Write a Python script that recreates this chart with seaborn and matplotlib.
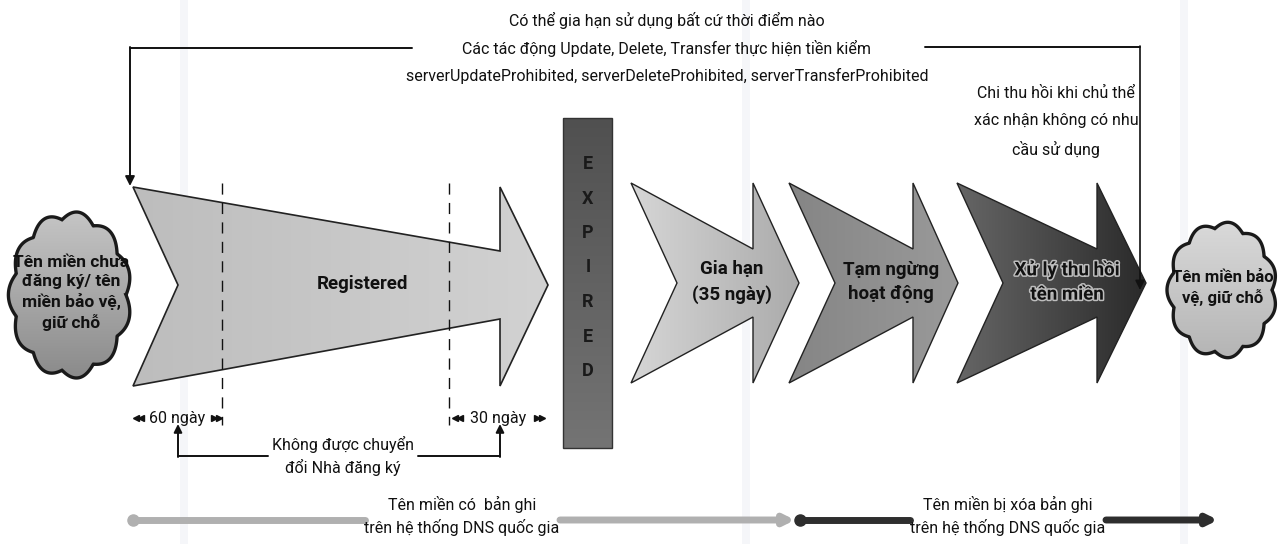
import numpy as np
import matplotlib.pyplot as plt
import matplotlib.patheffects as pe
import seaborn as sns
from matplotlib.patches import Polygon, Rectangle
from matplotlib.colors import LinearSegmentedColormap

# Texts of the diagram
top_note = ["Có thể gia hạn sử dụng bất cứ thời điểm nào",
            "Các tác động Update, Delete, Transfer thực hiện tiền kiểm",
            "serverUpdateProhibited, serverDeleteProhibited, serverTransferProhibited"]
right_note = ["Chi thu hồi khi chủ thể", "xác nhận không có nhu", "cầu sử dụng"]
stage_labels = ["Registered", "Gia hạn\n(35 ngày)", "Tạm ngừng\nhoạt động", "Xử lý thu hồi\ntên miền"]
cloud_labels = ["Tên miền chưa\nđăng ký/ tên\nmiền bảo vệ,\ngiữ chỗ", "Tên miền bảo\nvệ, giữ chỗ"]
expired_letters = list("EXPIRED")
period_labels = ["60 ngày", "30 ngày"]
transfer_note = "Không được chuyển\nđổi Nhà đăng ký"
dns_labels = ["Tên miền có  bản ghi\ntrên hệ thống DNS quốc gia",
              "Tên miền bị xóa bản ghi\ntrên hệ thống DNS quốc gia"]

# Shades used for the gradients
stage_shades = [("#bdbdbd", "#d2d2d2"), ("#d6d6d6", "#ababab"),
                ("#858585", "#9a9a9a"), ("#666666", "#2a2a2a")]
cloud_shades = [("#c6c6c6", "#8a8a8a"), ("#dadada", "#b4b4b4")]

sns.set_theme(style="white")
plt.rcParams['font.family'] = ['Roboto', 'DejaVu Sans']

fig = plt.figure(figsize=(12.79, 5.44), dpi=100)
ax = fig.add_axes([0, 0, 1, 1])
W, H = 1279, 544

# faint scan bands of the original
for xb in (180, 742, 1180):
    ax.axvspan(xb, xb + 8, color="#f5f6f9", zorder=0, lw=0)


def gradient_fill(patch, c0, c1, bbox, horizontal=True, z=2):
    ax.add_patch(patch)
    cmap = LinearSegmentedColormap.from_list("g", [c0, c1])
    g = np.linspace(0, 1, 256)
    img = g[None, :] if horizontal else g[:, None]
    x0, x1, y0, y1 = bbox
    im = ax.imshow(img, extent=(x0, x1, y1, y0), cmap=cmap, aspect='auto',
                   zorder=z, interpolation='bicubic')
    im.set_clip_path(patch)


def chevron(x0, xh, xt, ytop, ybot, ymid, notch, shaft):
    return [(x0, ytop), (xh, ymid - shaft), (xh, ytop), (xt, ymid),
            (xh, ybot), (xh, ymid + shaft), (x0, ybot), (x0 + notch, ymid)]


def cloud(cx, cy, rx, ry, n=11):
    t = np.linspace(0, 2 * np.pi, 800)
    r = 1 + 0.1 * np.abs(np.sin(n * t / 2))
    return np.column_stack([cx + rx * r * np.cos(t), cy + ry * r * np.sin(t)])


# Registered arrow
reg = Polygon(chevron(133, 500, 548, 187, 386, 285, 45, 34), closed=True,
              ec="#222222", lw=1.2, fc="none", zorder=3)
gradient_fill(reg, *stage_shades[0], (133, 548, 187, 386))
ax.text(362, 284, stage_labels[0], ha='center', va='center', fontsize=13.5,
        fontweight='bold', color="#111111", zorder=5)

# dashed markers for 60 / 30 days
for xd in (222, 449):
    ax.plot([xd, xd], [183, 425], ls=(0, (8, 6)), color="#111111", lw=1, zorder=4)

# the three later stages
specs = [(631, 753, 799), (789, 913, 958), (957, 1097, 1146)]
for i, (x0, xh, xt) in enumerate(specs):
    p = Polygon(chevron(x0, xh, xt, 183, 383, 283, 46, 34), closed=True,
                ec="#222222", lw=1.0, fc="none", zorder=3)
    gradient_fill(p, *stage_shades[i + 1], (x0, xt, 183, 383))
    t = ax.text((x0 + xh) / 2 + 40, 282, stage_labels[i + 1], ha='center',
                va='center', fontsize=13.5, fontweight='bold', color="#111111",
                zorder=5, linespacing=1.45)
    if i == 2:
        t.set_path_effects([pe.withStroke(linewidth=2.2, foreground="#bdbdbd")])

# EXPIRED bar
bar = Rectangle((563, 118), 49, 330, ec="#333333", lw=1, fc="none", zorder=3)
gradient_fill(bar, "#505050", "#747474", (563, 612, 118, 448), horizontal=False)
for k, ch in enumerate(expired_letters):
    ax.text(588, 164 + k * 34.5, ch, ha='center', va='center', fontsize=13,
            fontweight='bold', color="#1a1a1a", zorder=5)

# clouds
cloud_geo = [(70, 295, 56, 76), (1222, 290, 50, 62)]
for (cx, cy, rx, ry), lab, sh, fs in zip(cloud_geo, cloud_labels, cloud_shades,
                                          (12.5, 12)):
    c = Polygon(cloud(cx, cy, rx, ry), closed=True, ec="#1a1a1a", lw=2.4,
                fc="none", zorder=3)
    gradient_fill(c, *sh, (cx - rx * 1.12, cx + rx * 1.12,
                           cy - ry * 1.12, cy + ry * 1.12), horizontal=False)
    ax.text(cx + 1, cy - 2, lab, ha='center', va='center', fontsize=fs,
            fontweight='bold', color="#111111", zorder=5, linespacing=1.3)

# top note and brackets
for k, line in enumerate(top_note):
    ax.text(667, 20 + k * 28, line, ha='center', va='center', fontsize=11.5,
            color="#111111")
ax.plot([130, 412], [48, 48], color="#111111", lw=1.4)
ax.plot([925, 1140], [47, 47], color="#111111", lw=1.4)
ax.annotate("", xy=(130, 186), xytext=(130, 47),
            arrowprops=dict(arrowstyle="-|>", color="#111111", lw=1.4,
                            mutation_scale=14, shrinkA=0, shrinkB=0))
ax.annotate("", xy=(1140, 290), xytext=(1140, 46),
            arrowprops=dict(arrowstyle="-|>", color="#111111", lw=1.2,
                            mutation_scale=14, shrinkA=0, shrinkB=0))
for k, line in enumerate(right_note):
    ax.text(1056, 93 + k * 28, line, ha='center', va='center', fontsize=11.5,
            color="#111111")

# 60 / 30 day periods
for (xa, xb), lab in zip([(133, 222), (452, 545)], period_labels):
    ax.text((xa + xb) / 2, 418, lab, ha='center', va='center', fontsize=11.5,
            color="#111111", zorder=5)
    ax.plot([xa + 3, xa + 8], [418, 418], ls='none', marker='<', ms=4.5,
            color="#111111")
    ax.plot([xb - 8, xb - 3], [418, 418], ls='none', marker='>', ms=4.5,
            color="#111111")

# transfer restriction bracket
ax.plot([178, 268], [456, 456], color="#111111", lw=1.4)
ax.plot([418, 500], [456, 456], color="#111111", lw=1.4)
for xa in (178, 500):
    ax.annotate("", xy=(xa, 424), xytext=(xa, 457),
                arrowprops=dict(arrowstyle="-|>", color="#111111", lw=1.4,
                                mutation_scale=12, shrinkA=0, shrinkB=0))
ax.text(343, 456, transfer_note, ha='center', va='center', fontsize=11.5,
        color="#111111", linespacing=1.45)

# DNS record bars
light, dark = "#b0b0b0", "#2e2e2e"
ax.plot([133, 365], [520, 520], color=light, lw=5, solid_capstyle='round')
ax.plot([133], [520], marker='o', ms=8, color=light)
ax.annotate("", xy=(795, 520), xytext=(560, 520),
            arrowprops=dict(arrowstyle="-|>", color=light, lw=5,
                            mutation_scale=14, shrinkA=0, shrinkB=0))
ax.plot([800, 910], [520, 520], color=dark, lw=5, solid_capstyle='round')
ax.plot([800], [520], marker='o', ms=8, color=dark)
ax.annotate("", xy=(1218, 520), xytext=(1106, 520),
            arrowprops=dict(arrowstyle="-|>", color=dark, lw=5,
                            mutation_scale=14, shrinkA=0, shrinkB=0))
for xc, lab in zip((462, 1008), dns_labels):
    ax.text(xc, 516, lab, ha='center', va='center', fontsize=11.5,
            color="#111111", linespacing=1.45)

ax.set_xlim(0, W)
ax.set_ylim(H, 0)
ax.axis('off')
fig.savefig("out.png", dpi=100, facecolor="white")
